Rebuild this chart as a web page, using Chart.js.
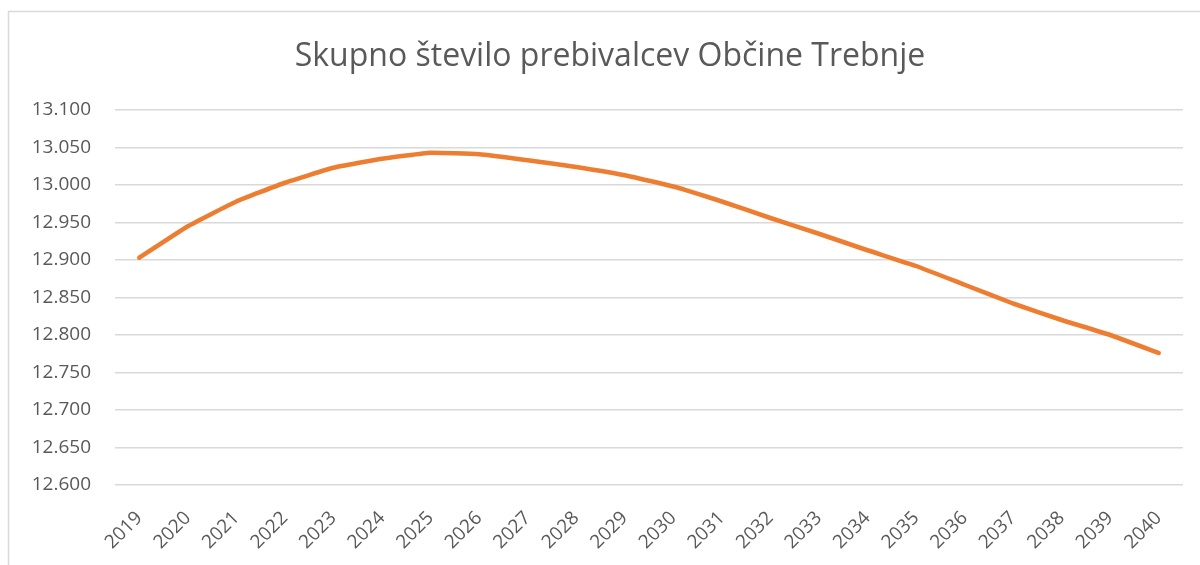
<!DOCTYPE html>
<html>
<head>
<meta charset="utf-8">
<script src="https://cdn.jsdelivr.net/npm/chart.js@4"></script>
<style>
html,body{margin:0;padding:0;background:#fff;}
#wrap{position:relative;width:1200px;height:565px;}
</style>
</head>
<body>
<div id="wrap"><canvas id="c" width="1200" height="565"></canvas></div>
<script>
const chartTitle = 'Skupno število prebivalcev Občine Trebnje';
const years = ['2019','2020','2021','2022','2023','2024','2025','2026','2027','2028','2029','2030','2031','2032','2033','2034','2035','2036','2037','2038','2039','2040'];
const population = [12903,12945,12978,13003,13023,13035,13043,13041,13033,13024,13013,12998,12978,12956,12935,12913,12892,12867,12842,12820,12800,12776];
const yMin = 12600, yMax = 13100, yStep = 50;

const FONT = "'Open Sans', 'Noto Sans', sans-serif";
const TEXT = '#595959';

const framePlugin = {
  id: 'frame',
  beforeDraw(chart) {
    const ctx = chart.ctx;
    ctx.save();
    ctx.fillStyle = '#fff';
    ctx.fillRect(0, 0, chart.width, chart.height);
    ctx.strokeStyle = '#d9d9d9';
    ctx.lineWidth = 1.5;
    ctx.beginPath();
    ctx.moveTo(8.5, chart.height);
    ctx.lineTo(8.5, 11.5);
    ctx.lineTo(chart.width, 11.5);
    ctx.stroke();
    ctx.restore();
  },
  afterDraw(chart) {
    const ctx = chart.ctx;
    ctx.save();
    ctx.fillStyle = TEXT;
    ctx.font = "32px " + FONT;
    ctx.textAlign = 'center';
    ctx.textBaseline = 'middle';
    ctx.fillText(chartTitle, 610, 57);
    ctx.restore();
  }
};

new Chart(document.getElementById('c'), {
  type: 'line',
  data: {
    labels: years,
    datasets: [{
      data: population,
      borderColor: '#ED7D31',
      borderWidth: 4.5,
      pointRadius: 0,
      tension: 0.12,
      borderCapStyle: 'round',
      borderJoinStyle: 'round',
      fill: false
    }]
  },
  options: {
    responsive: false,
    animation: false,
    layout: { padding: { left: 0, right: 17, top: 110, bottom: 0 } },
    plugins: { legend: { display: false }, tooltip: { enabled: false }, title: { display: false } },
    scales: {
      x: {
        offset: true,
        grid: { display: false, drawTicks: false },
        border: { display: false },
        afterFit(scale) { scale.height = 80; },
        ticks: {
          color: TEXT,
          font: { family: FONT, size: 19 },
          minRotation: 45,
          maxRotation: 45,
          padding: 22,
          autoSkip: false
        }
      },
      y: {
        min: yMin,
        max: yMax,
        afterFit(scale) { scale.width = 115; },
        grid: { color: '#d9d9d9', lineWidth: 1.5, drawTicks: false },
        border: { display: false },
        ticks: {
          stepSize: yStep,
          color: TEXT,
          padding: 24,
          font: { family: FONT, size: 19 },
          callback: v => v.toLocaleString('de-DE', { minimumFractionDigits: 0 }).replace(',', '.')
        }
      }
    }
  },
  plugins: [framePlugin]
});
</script>
</body>
</html>
